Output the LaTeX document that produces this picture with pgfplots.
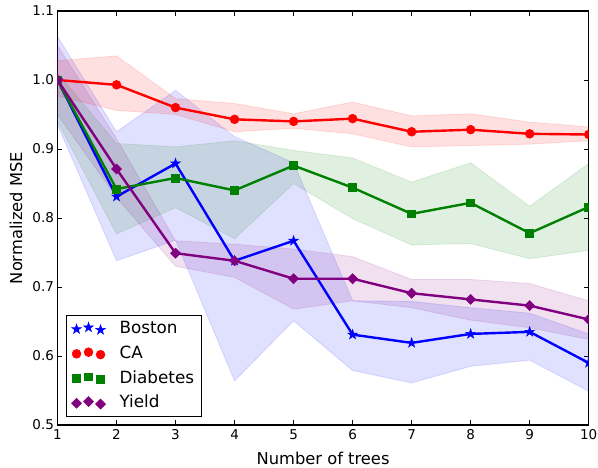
\documentclass[border=0pt]{standalone}
\usepackage{fontspec}
\setmainfont{DejaVu Sans}
\usepackage{pgfplots}
\pgfplotsset{compat=1.18}
\usepackage{pgfplotstable}
\usepgfplotslibrary{fillbetween}

\definecolor{mblue}{rgb}{0,0,1}
\definecolor{mred}{rgb}{1,0,0}
\definecolor{mgreen}{rgb}{0,0.5,0}
\definecolor{mpurple}{rgb}{0.5,0,0.5}

\pgfdeclareplotmark{fstar}{%
 \pgfpathmoveto{\pgfpointpolar{90}{\pgfplotmarksize}}%
 \pgfpathlineto{\pgfpointpolar{126}{0.382*\pgfplotmarksize}}%
 \pgfpathlineto{\pgfpointpolar{162}{\pgfplotmarksize}}%
 \pgfpathlineto{\pgfpointpolar{198}{0.382*\pgfplotmarksize}}%
 \pgfpathlineto{\pgfpointpolar{234}{\pgfplotmarksize}}%
 \pgfpathlineto{\pgfpointpolar{270}{0.382*\pgfplotmarksize}}%
 \pgfpathlineto{\pgfpointpolar{306}{\pgfplotmarksize}}%
 \pgfpathlineto{\pgfpointpolar{342}{0.382*\pgfplotmarksize}}%
 \pgfpathlineto{\pgfpointpolar{18}{\pgfplotmarksize}}%
 \pgfpathlineto{\pgfpointpolar{54}{0.382*\pgfplotmarksize}}%
 \pgfpathclose
 \pgfusepathqfillstroke}
\pgfdeclareplotmark{fdiamond}{%
 \pgfpathmoveto{\pgfqpoint{0pt}{\pgfplotmarksize}}%
 \pgfpathlineto{\pgfqpoint{\pgfplotmarksize}{0pt}}%
 \pgfpathlineto{\pgfqpoint{0pt}{-\pgfplotmarksize}}%
 \pgfpathlineto{\pgfqpoint{-\pgfplotmarksize}{0pt}}%
 \pgfpathclose
 \pgfusepathqfillstroke}

% x  mean  lower  upper
\pgfplotstableread{
x  m     lo    hi
1  1.000 0.935 1.063
2  0.831 0.738 0.925
3  0.879 0.768 0.985
4  0.738 0.564 0.918
5  0.767 0.651 0.880
6  0.631 0.579 0.680
7  0.619 0.561 0.679
8  0.632 0.585 0.670
9  0.635 0.594 0.662
10 0.590 0.549 0.632
}\boston
\pgfplotstableread{
x  m     lo    hi
1  1.000 0.977 1.028
2  0.993 0.956 1.035
3  0.960 0.950 0.973
4  0.943 0.925 0.966
5  0.940 0.930 0.951
6  0.944 0.922 0.968
7  0.925 0.903 0.948
8  0.928 0.905 0.951
9  0.922 0.907 0.939
10 0.921 0.912 0.932
}\ca
\pgfplotstableread{
x  m     lo    hi
1  1.000 0.940 1.010
2  0.842 0.777 0.908
3  0.858 0.815 0.903
4  0.840 0.770 0.912
5  0.876 0.850 0.898
6  0.844 0.799 0.887
7  0.806 0.761 0.852
8  0.822 0.763 0.880
9  0.778 0.741 0.817
10 0.816 0.753 0.879
}\diabetes
\pgfplotstableread{
x  m     lo    hi
1  1.000 0.950 1.050
2  0.871 0.830 0.915
3  0.749 0.730 0.767
4  0.738 0.714 0.762
5  0.712 0.668 0.755
6  0.712 0.680 0.744
7  0.691 0.670 0.711
8  0.682 0.652 0.711
9  0.673 0.641 0.705
10 0.653 0.624 0.680
}\yield

\begin{document}
\begin{tikzpicture}
\begin{axis}[
  at={(0,0)}, anchor=south west,
  scale only axis, width=531.2pt, height=414pt,
  xmin=1, xmax=10, ymin=0.5, ymax=1.1,
  xtick={1,2,3,4,5,6,7,8,9,10},
  ytick={0.5,0.6,0.7,0.8,0.9,1.0,1.1},
  yticklabel style={/pgf/number format/.cd, fixed, fixed zerofill, precision=1},
  /pgf/number format/assume math mode=true,
  tick align=inside, major tick length=5pt,
  tick style={black, line width=0.7pt},
  axis line style={line width=1.3pt},
  ticklabel style={font=\fontsize{13.5}{16}\selectfont},
  xticklabel style={yshift=-1pt},
  xlabel={Number of trees}, ylabel={Normalized MSE},
  xlabel style={font=\fontsize{16.3}{19}\selectfont, at={(axis description cs:0.5,0)}, anchor=base, yshift=-39.3pt},
  ylabel style={font=\fontsize{16.3}{19}\selectfont, at={(axis description cs:0,0.5)}, anchor=center, rotate=0, yshift=41.5pt},
  clip marker paths=true,
  legend cell align=left,
  legend image code/.code={\draw[#1] plot[only marks] coordinates {(0pt,0pt) (12pt,1.7pt) (24pt,-0.8pt)};},
  legend style={draw=black, line width=1.1pt, fill=white, rounded corners=0pt,
    at={(axis description cs:0,0)}, anchor=south west, xshift=8.5pt, yshift=7.7pt,
    font=\fontsize{16.8}{19}\selectfont,
    inner xsep=5pt, inner ysep=4pt, row sep=5.7pt,
    nodes={inner sep=2pt, text height=12pt, text depth=3pt},
    /tikz/every odd column/.append style={column sep=12pt}},
]
% bands
\addplot[name path=bU, draw=none, forget plot] table[x=x,y=hi]{\boston};
\addplot[name path=bL, draw=none, forget plot] table[x=x,y=lo]{\boston};
\addplot[fill=mblue, draw=mblue, fill opacity=0.12, draw opacity=0.12, line width=0.8pt, forget plot] fill between[of=bU and bL];
\addplot[name path=cU, draw=none, forget plot] table[x=x,y=hi]{\ca};
\addplot[name path=cL, draw=none, forget plot] table[x=x,y=lo]{\ca};
\addplot[fill=mred, draw=mred, fill opacity=0.12, draw opacity=0.12, line width=0.8pt, forget plot] fill between[of=cU and cL];
\addplot[name path=dU, draw=none, forget plot] table[x=x,y=hi]{\diabetes};
\addplot[name path=dL, draw=none, forget plot] table[x=x,y=lo]{\diabetes};
\addplot[fill=mgreen, draw=mgreen, fill opacity=0.12, draw opacity=0.12, line width=0.8pt, forget plot] fill between[of=dU and dL];
\addplot[name path=yU, draw=none, forget plot] table[x=x,y=hi]{\yield};
\addplot[name path=yL, draw=none, forget plot] table[x=x,y=lo]{\yield};
\addplot[fill=mpurple, draw=mpurple, fill opacity=0.12, draw opacity=0.12, line width=0.8pt, forget plot] fill between[of=yU and yL];
% lines
\addplot[mblue, line width=2.4pt, mark=fstar, mark size=5pt, mark options={solid, line width=0.6pt, fill=mblue}] table[x=x,y=m]{\boston};
\addlegendentry{Boston}
\addplot[mred, line width=2.4pt, mark=*, mark size=4.4pt, mark options={solid, line width=0.6pt, fill=mred}] table[x=x,y=m]{\ca};
\addlegendentry{CA}
\addplot[mgreen, line width=2.4pt, mark=square*, mark size=3.9pt, mark options={solid, line width=0.6pt, fill=mgreen}] table[x=x,y=m]{\diabetes};
\addlegendentry{Diabetes}
\addplot[mpurple, line width=2.4pt, mark=fdiamond, mark size=5pt, mark options={solid, line width=0.6pt, fill=mpurple}] table[x=x,y=m]{\yield};
\addlegendentry{Yield}
\end{axis}
\pgfresetboundingbox
\path[use as bounding box] (-57.5pt,-42pt) rectangle (540.5pt,425pt);
\end{tikzpicture}
\end{document}
